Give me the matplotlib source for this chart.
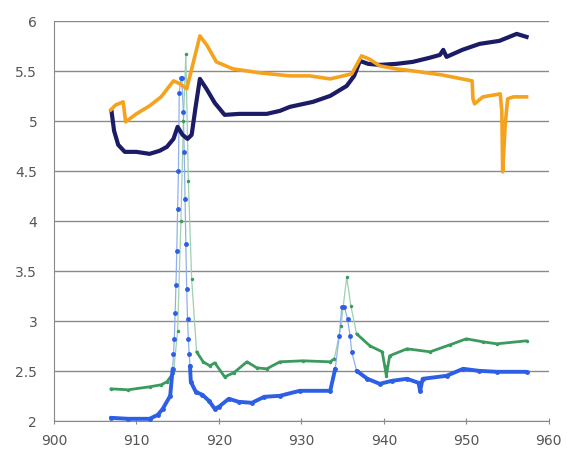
import numpy as np
import matplotlib
matplotlib.use('Agg')
import matplotlib.pyplot as plt

# series (x, y)
navy_x = [907.0, 907.3, 907.8, 908.6, 910.0, 911.6, 912.8, 913.7, 914.5, 915.0, 915.6, 916.2,
          916.7, 917.2, 917.7, 918.5, 919.5, 920.7, 922.5, 925.8, 927.4, 928.6, 931.4, 933.5,
          935.5, 936.4, 937.1, 938.1, 939.5, 941.5, 943.5, 945.5, 946.8, 947.2, 947.6, 949.5,
          951.6, 954.0, 956.1, 957.3]
navy_y = [5.09, 4.90, 4.76, 4.69, 4.69, 4.67, 4.70, 4.74, 4.82, 4.94, 4.86, 4.82,
          4.86, 5.15, 5.42, 5.32, 5.18, 5.06, 5.07, 5.07, 5.10, 5.14, 5.19, 5.25,
          5.35, 5.45, 5.60, 5.57, 5.56, 5.57, 5.59, 5.63, 5.66, 5.71, 5.64, 5.71,
          5.77, 5.80, 5.87, 5.84]

orange_x = [906.9, 907.5, 908.4, 908.7, 910.0, 911.6, 913.0, 914.5, 915.3, 916.1, 916.8,
            917.7, 918.6, 919.7, 921.7, 925.0, 928.6, 931.0, 933.5, 936.1, 937.3, 938.2,
            939.5, 941.5, 943.5, 947.0, 950.7, 950.8, 951.0, 952.0, 954.1, 954.3, 954.4,
            954.7, 955.0, 955.7, 957.3]
orange_y = [5.11, 5.16, 5.19, 4.99, 5.07, 5.15, 5.24, 5.40, 5.37, 5.32, 5.55,
            5.85, 5.75, 5.59, 5.52, 5.48, 5.45, 5.45, 5.42, 5.47, 5.65, 5.62,
            5.55, 5.52, 5.50, 5.46, 5.40, 5.22, 5.17, 5.24, 5.27, 5.10, 4.49,
            4.95, 5.22, 5.24, 5.24]

green_x = [906.9, 909.0, 911.6, 913.0, 913.7, 914.5, 915.0, 915.4, 915.7, 916.0, 916.3,
           916.7, 917.3, 918.1, 918.9, 919.5, 920.7, 921.8, 923.4, 924.6, 925.8, 927.4,
           930.2, 933.5, 934.0, 934.8, 935.5, 936.0, 936.7, 938.3, 939.8, 940.1, 940.3,
           940.7, 942.8, 945.6, 948.0, 950.0, 952.0, 953.7, 957.3]
green_y = [2.32, 2.31, 2.34, 2.36, 2.39, 2.48, 2.90, 4.00, 5.00, 5.67, 4.40,
           3.42, 2.69, 2.59, 2.55, 2.58, 2.44, 2.48, 2.59, 2.53, 2.52, 2.59,
           2.60, 2.59, 2.62, 2.95, 3.44, 3.15, 2.87, 2.75, 2.69, 2.55, 2.45,
           2.65, 2.72, 2.69, 2.76, 2.82, 2.79, 2.77, 2.80]

blue_x = [906.9, 909.0, 911.6, 912.6, 913.2, 914.1, 914.4, 914.5, 914.6, 914.7, 914.8,
          914.9, 915.0, 915.1, 915.2, 915.4, 915.5, 915.7, 915.8, 915.9, 916.0, 916.1,
          916.2, 916.3, 916.4, 916.5, 916.6, 917.2, 918.0, 918.8, 919.5, 920.0, 921.2,
          922.4, 924.0, 925.5, 927.4, 929.8, 933.5, 934.1, 934.6, 934.9, 935.2, 935.6,
          935.9, 936.1, 936.7, 938.0, 939.5, 941.0, 942.8, 944.2, 944.4, 944.7, 947.6,
          949.6, 951.5, 953.7, 957.3]
blue_y = [2.03, 2.02, 2.02, 2.06, 2.12, 2.25, 2.52, 2.67, 2.82, 3.08, 3.36,
          3.70, 4.12, 4.50, 5.28, 5.43, 5.43, 5.09, 4.69, 4.22, 3.77, 3.32,
          3.02, 2.82, 2.67, 2.55, 2.39, 2.29, 2.26, 2.20, 2.12, 2.14, 2.22,
          2.19, 2.18, 2.24, 2.25, 2.30, 2.30, 2.52, 2.85, 3.14, 3.14, 3.02,
          2.85, 2.69, 2.50, 2.42, 2.37, 2.40, 2.42, 2.38, 2.30, 2.42, 2.45,
          2.52, 2.50, 2.49, 2.49]

x_ticks = [900, 910, 920, 930, 940, 950, 960]
y_ticks = [2, 2.5, 3, 3.5, 4, 4.5, 5, 5.5, 6]
y_labels = ['2', '2.5', '3', '3.5', '4', '4.5', '5', '5.5', '6']


def draw_series(ax, xs, ys, color, light, lw, ms, thin_above):
    # thin connecting line with dots everywhere, thick band where values stay low
    xs = np.array(xs)
    ys = np.array(ys)
    ax.plot(xs, ys, color=light, lw=0.9, zorder=2)
    ax.plot(xs, ys, 'o', color=color, ms=ms, mec='none', zorder=3)
    low = np.where(ys < thin_above, ys, np.nan)
    ax.plot(xs, low, color=color, lw=lw, zorder=3, solid_capstyle='round')


fig = plt.figure(figsize=(5.67, 4.56), dpi=100)
ax = fig.add_axes([0.095, 0.075, 0.873, 0.877])

ax.plot(navy_x, navy_y, color='#1b1b66', lw=3, zorder=3)
ax.plot(orange_x, orange_y, color='#f5a21e', lw=2.6, zorder=3)
draw_series(ax, green_x, green_y, '#3b9a5e', '#9fd0b0', 2.0, 2.5, 2.9)
draw_series(ax, blue_x, blue_y, '#2d5ee6', '#8fb0f0', 2.8, 3.5, 2.56)

ax.set_xlim(900, 960)
ax.set_ylim(2, 6)
ax.set_xticks(x_ticks)
ax.set_yticks(y_ticks)
ax.set_yticklabels(y_labels)

ax.grid(axis='y', color='#8a8a8a', lw=1)
ax.set_axisbelow(True)
for s in ['top', 'right']:
    ax.spines[s].set_visible(False)
for s in ['left', 'bottom']:
    ax.spines[s].set_color('#8a8a8a')
ax.tick_params(axis='x', direction='inout', length=5, color='#8a8a8a', labelsize=10,
               labelcolor='#555555', pad=6)
ax.tick_params(axis='y', length=0, labelsize=10, labelcolor='#555555', pad=12)

plt.savefig('out.png', dpi=100)
